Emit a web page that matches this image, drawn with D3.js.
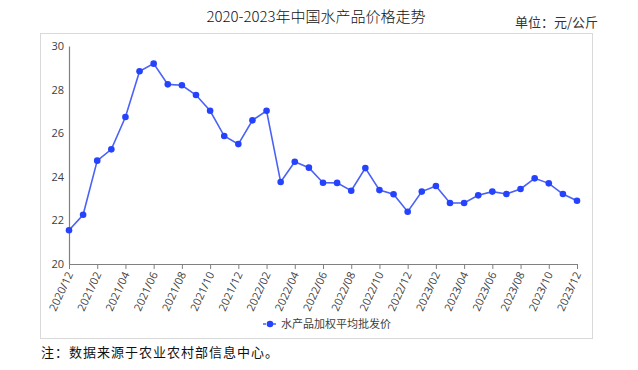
<!DOCTYPE html>
<html><head><meta charset="utf-8">
<script src="https://cdn.jsdelivr.net/npm/d3@7"></script>
<style>body{margin:0;background:#fff}</style>
</head><body>
<script>
const months = ["2020/12","2021/01","2021/02","2021/03","2021/04","2021/05","2021/06","2021/07","2021/08","2021/09","2021/10","2021/11","2021/12",
"2022/01","2022/02","2022/03","2022/04","2022/05","2022/06","2022/07","2022/08","2022/09","2022/10","2022/11","2022/12",
"2023/01","2023/02","2023/03","2023/04","2023/05","2023/06","2023/07","2023/08","2023/09","2023/10","2023/11","2023/12"];
const prices = [21.55,22.26,24.74,25.26,26.74,28.84,29.19,28.24,28.2,27.75,27.03,25.87,25.5,
26.59,27.03,23.76,24.69,24.42,23.73,23.72,23.36,24.40,23.39,23.20,22.40,
23.32,23.58,22.80,22.80,23.15,23.32,23.21,23.44,23.93,23.70,23.21,22.90];
const yTicks = [20,22,24,26,28,30];
const seriesName = "水产品加权平均批发价";
const title = "2020-2023年中国水产品价格走势";
const unitText = "单位：元/公斤";
const noteText = "注：数据来源于农业农村部信息中心。";

const W=638,H=370;
const svg=d3.select("body").append("svg").attr("width",W).attr("height",H);
const sans="'Open Sans','Liberation Sans',sans-serif";
const cjk="'Noto Sans CJK SC','Noto Sans',sans-serif";

svg.append("rect").attr("x",40.5).attr("y",33.5).attr("width",552).attr("height",305)
  .attr("fill","#fff").attr("stroke","#d9d9d9");

svg.append("text").attr("x",316).attr("y",22).attr("text-anchor","middle")
  .attr("font-family",cjk).attr("font-size",15).attr("font-weight",300).attr("fill","#111").text(title);
svg.append("text").attr("x",598).attr("y",27).attr("text-anchor","end")
  .attr("font-family",cjk).attr("font-size",13).attr("fill","#333").text(unitText);

const x=d3.scalePoint().domain(months).range([69,577]);
const y=d3.scaleLinear().domain([20,30]).range([264,46]);

// y axis
const ya=svg.append("g").attr("transform","translate(69,0)")
  .call(d3.axisLeft(y).tickValues(yTicks).tickSize(0).tickPadding(5));
ya.select(".domain").attr("stroke","#808080").attr("stroke-width",1.2);
ya.selectAll("text").attr("font-family",sans).attr("font-size",11).attr("fill","#404040");

// x axis
const labelMonths=months.filter((d,i)=>i%2===0);
const xa=svg.append("g").attr("transform","translate(0,264)")
  .call(d3.axisBottom(x).tickValues(labelMonths).tickSize(5).tickSizeOuter(0));
xa.select(".domain").attr("stroke","#808080").attr("stroke-width",1.2);
xa.selectAll(".tick line").attr("stroke","#808080");
xa.selectAll("text").attr("font-family",sans).attr("font-size",11).attr("fill","#404040")
  .attr("text-anchor","end").attr("dy","0.35em")
  .attr("transform","translate(3,3) rotate(-65)");
xa.selectAll("text").attr("y",0).attr("x",-6);

const line=d3.line().x((d,i)=>x(months[i])).y(d=>y(d));
svg.append("path").datum(prices).attr("d",line).attr("fill","none")
  .attr("stroke","#4a62f5").attr("stroke-width",1.6);
svg.selectAll("circle.pt").data(prices).join("circle").attr("class","pt")
  .attr("cx",(d,i)=>x(months[i])).attr("cy",d=>y(d)).attr("r",3.3).attr("fill","#2542ff");

// legend
const lg=svg.append("g").attr("transform","translate(263,324)");
lg.append("line").attr("x1",0).attr("x2",14).attr("y1",0).attr("y2",0)
  .attr("stroke","#4a62f5").attr("stroke-width",1.6).attr("stroke-dasharray","3,2");
lg.append("circle").attr("cx",7).attr("cy",0).attr("r",3.3).attr("fill","#2542ff");
lg.append("text").attr("x",18).attr("y",0).attr("dy","0.35em").attr("font-family",cjk)
  .attr("font-size",11).attr("fill","#404040").text(seriesName);

svg.append("text").attr("x",41).attr("y",357).attr("font-family",cjk).attr("font-size",13)
  .attr("letter-spacing",1).attr("fill","#111").text(noteText);
</script>
</body></html>
